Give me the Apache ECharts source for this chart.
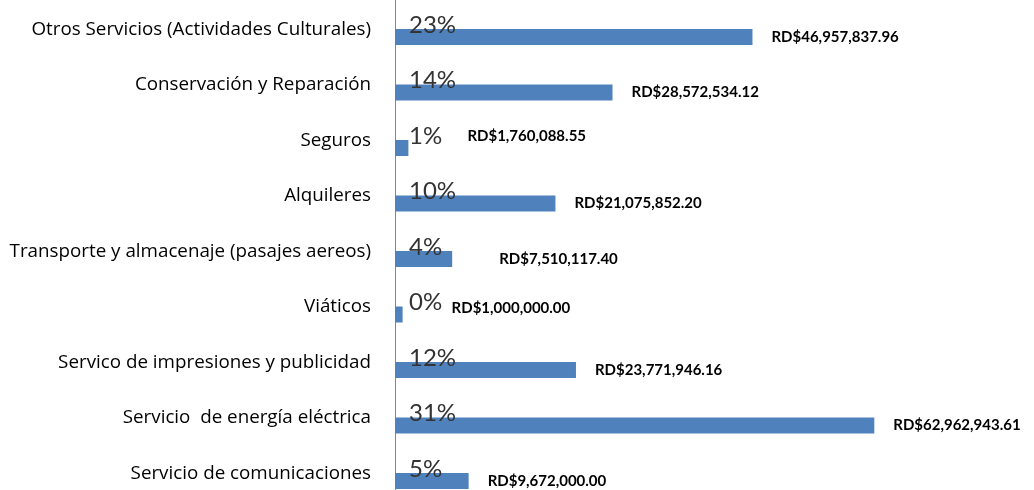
<!DOCTYPE html>
<html>
<head>
<meta charset="utf-8">
<script src="https://cdn.jsdelivr.net/npm/echarts@6/dist/echarts.min.js"></script>
<style>
html,body{margin:0;padding:0;background:#fff;}
#chart{width:1034px;height:490px;}
</style>
</head>
<body>
<div id="chart"></div>
<script>
const categories = [
  'Otros Servicios (Actividades Culturales)',
  'Conservación y Reparación',
  'Seguros',
  'Alquileres',
  'Transporte y almacenaje (pasajes aereos)',
  'Viáticos',
  'Servico de impresiones y publicidad',
  'Servicio  de energía eléctrica',
  'Servicio de comunicaciones'
];
const amounts = [46957837.96, 28572534.12, 1760088.55, 21075852.20, 7510117.40, 1000000.00, 23771946.16, 62962943.61, 9672000.00];
const percentLabels = ['23%', '14%', '1%', '10%', '4%', '0%', '12%', '31%', '5%'];

// label nudges (styling only): [dx, dy] for value labels moved manually in the original
const valueLabelNudge = {2: [40, -12], 4: [28, 0], 5: [30, -6]};

function fmt(v) {
  return 'RD$' + v.toLocaleString('en-US', {minimumFractionDigits: 2, maximumFractionDigits: 2});
}

const chart = echarts.init(document.getElementById('chart'), null, {renderer: 'canvas'});

const valueData = amounts.map((v, i) => {
  const item = {value: v};
  if (valueLabelNudge[i]) {
    item.label = {offset: valueLabelNudge[i]};
  }
  return item;
});

chart.setOption({
  animation: false,
  backgroundColor: '#ffffff',
  grid: [
    {left: 395, right: 30, top: 37, bottom: 9, containLabel: false},
    {left: 395, right: 30, top: 0, bottom: 0, containLabel: false}
  ],
  xAxis: [
    {type: 'value', min: 0, max: 80000000, show: false, gridIndex: 0},
    {type: 'value', min: 0, max: 1, show: false, gridIndex: 1}
  ],
  yAxis: [
    {
      type: 'category',
      gridIndex: 0,
      data: categories,
      inverse: true,
      boundaryGap: false,
      axisLine: {show: false},
      axisTick: {show: false},
      splitLine: {show: false},
      axisLabel: {
        color: '#000000',
        fontFamily: 'Open Sans',
        fontSize: 18.8,
        margin: 24,
        verticalAlign: 'bottom',
        lineHeight: 15
      }
    },
    {
      type: 'value',
      gridIndex: 1,
      min: 0, max: 1,
      axisLine: {show: true, lineStyle: {color: '#868686', width: 1}},
      axisTick: {show: false},
      axisLabel: {show: false},
      splitLine: {show: false}
    }
  ],
  series: [
    {
      type: 'bar',
      xAxisIndex: 0, yAxisIndex: 0,
      data: valueData,
      barWidth: 16,
      clip: false,
      itemStyle: {color: '#4F81BD'},
      label: {
        show: true,
        position: 'right',
        distance: 19,
        color: '#000000',
        fontFamily: 'Lato',
        fontWeight: 'bold',
        fontSize: 15,
        formatter: p => fmt(p.value)
      }
    },
    {
      type: 'bar',
      xAxisIndex: 0, yAxisIndex: 0,
      data: amounts,
      barWidth: 16,
      barGap: '-100%',
      clip: false,
      itemStyle: {color: 'rgba(0,0,0,0)'},
      silent: true,
      label: {
        show: true,
        position: [14, -4],
        align: 'left',
        verticalAlign: 'middle',
        color: '#333333',
        fontFamily: 'Lato',
        fontSize: 24,
        formatter: p => percentLabels[p.dataIndex]
      }
    }
  ]
});
</script>
</body>
</html>
